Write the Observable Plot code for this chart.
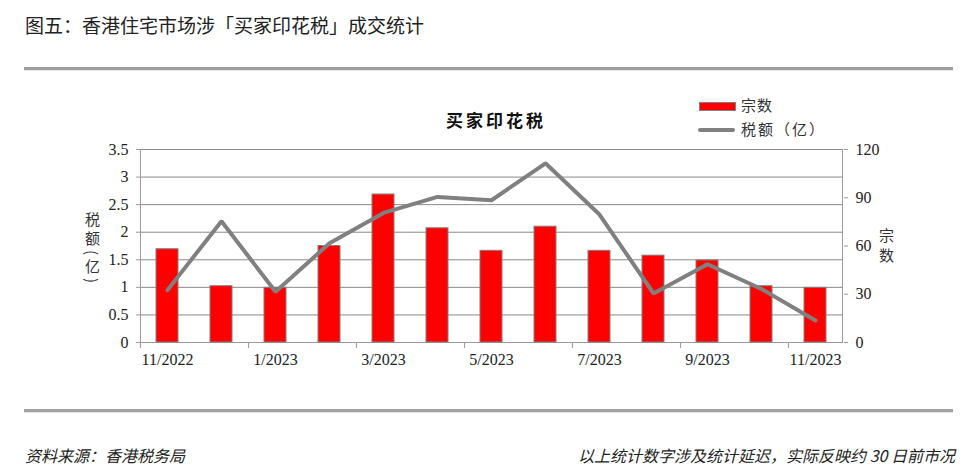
<!DOCTYPE html>
<html><head><meta charset="utf-8">
<script src="https://cdn.jsdelivr.net/npm/d3@7"></script>
<script src="https://cdn.jsdelivr.net/npm/@observablehq/plot@0.6"></script>
<style>
html,body{margin:0;padding:0;background:#fff;}
#wrap{position:relative;width:967px;height:476px;overflow:hidden;font-family:"Noto Sans CJK SC",sans-serif;color:#222;}
.abs{position:absolute;white-space:nowrap;}
#head{left:25px;top:12px;font-size:19px;line-height:26px;color:#222;}
.rule{position:absolute;left:24px;width:929px;height:3px;background:#a0a0a0;border-bottom:1px solid #e4e4e4;}
#chart{position:absolute;left:0;top:80px;}
#ctitle{left:446px;top:107px;font-size:17px;font-weight:700;letter-spacing:3px;color:#111;}
#ylab{left:84px;top:212px;writing-mode:vertical-rl;font-size:15px;line-height:16px;letter-spacing:4px;color:#333;}
#ylab2{left:878px;top:228px;writing-mode:vertical-rl;font-size:15px;line-height:16px;letter-spacing:5px;color:#333;}
.legsw{position:absolute;}
.legtx{font-size:15px;line-height:18px;color:#333;}
.foot{top:444px;font-size:16px;font-style:italic;color:#222;line-height:22px;}
</style></head>
<body>
<div id="wrap">
  <div id="head" class="abs">图五：香港住宅市场涉「买家印花税」成交统计</div>
  <div class="rule" style="top:67px"></div>
  <div id="chart"></div>
  <div id="ctitle" class="abs">买家印花税</div>
  <div id="ylab" class="abs">税额(亿)</div>
  <div id="ylab2" class="abs">宗数</div>
  <div class="legsw" style="left:699px;top:102px;width:35px;height:7px;background:#ff0000;border:1px solid #808080;"></div>
  <div class="abs legtx" style="left:741px;top:96px;letter-spacing:1px;">宗数</div>
  <div class="legsw" style="left:698px;top:128px;width:37px;height:4px;background:#808080;border-radius:2px;"></div>
  <div class="abs legtx" style="left:741px;top:120px;letter-spacing:2px;">税额（亿）</div>
  <div class="rule" style="top:409px"></div>
  <div class="abs foot" style="left:25px;">资料来源：香港税务局</div>
  <div class="abs foot" style="right:12px;">以上统计数字涉及统计延迟，实际反映约 30 日前市况</div>
</div>
<script>
// ---- data ----
const months = ["11/2022","12/2022","1/2023","2/2023","3/2023","4/2023","5/2023","6/2023","7/2023","8/2023","9/2023","10/2023","11/2023"];
const counts = [58, 35, 34, 60, 92, 71, 57, 72, 57, 54, 51, 35, 34];          // 宗数 (right axis)
const amounts = [0.95, 2.20, 0.92, 1.80, 2.35, 2.64, 2.58, 3.25, 2.32, 0.89, 1.42, 0.97, 0.40]; // 税额（亿） (left axis)
const leftTicks = [0, 0.5, 1, 1.5, 2, 2.5, 3, 3.5];
const rightTicks = [0, 30, 60, 90, 120];
const labelMonths = ["11/2022","1/2023","3/2023","5/2023","7/2023","9/2023","11/2023"];

const table = months.map((m, i) => ({month: m, count: counts[i], amount: amounts[i]}));
const k = 3.5 / 120; // right-axis units -> left-axis units

const W = 967, H = 330, ML = 140, MR = 124, MT = 69, MB = 68;
const step = (W - ML - MR) / months.length;
const serif = "'Liberation Serif', 'DejaVu Serif', serif";

const plot = Plot.plot({
  width: W, height: H,
  marginLeft: ML, marginRight: MR, marginTop: MT, marginBottom: MB,
  style: {fontFamily: serif, fontSize: "16px", color: "#222", background: "#fff", overflow: "visible"},
  x: {domain: months, paddingInner: 0.59, paddingOuter: 0.295, label: null, axis: null},
  y: {domain: [0, 3.5], label: null, axis: null},
  marks: [
    Plot.gridY(leftTicks, {stroke: "#8a8a8a", strokeOpacity: 1}),
    Plot.ruleX([months[0]], {dx: -step / 2, y1: 0, y2: 3.5, stroke: "#9a9a9a"}),
    Plot.ruleX([months[months.length - 1]], {dx: step / 2, y1: 0, y2: 3.5, stroke: "#9a9a9a"}),
    Plot.ruleY([0], {stroke: "#9a9a9a"}),
    Plot.axisY({ticks: leftTicks, tickSize: 4, tickPadding: 8, stroke: "#9a9a9a", tickFormat: d => String(d), fontSize: 16, label: null}),
    Plot.axisY({anchor: "right", ticks: rightTicks.map(v => v * k), tickSize: 4, tickPadding: 8, stroke: "#9a9a9a", tickFormat: v => String(Math.round(v / k)), fontSize: 16, label: null}),
    Plot.axisX({ticks: labelMonths, tickSize: 6, tickFormat: () => "", dx: -step / 2, stroke: "#9a9a9a", label: null}),
    Plot.axisX({ticks: labelMonths, tickSize: 0, tickPadding: 11, fontSize: 16, label: null}),
    Plot.barY(table, {x: "month", y: d => d.count * k, fill: "#ff0000", stroke: "#808080", strokeWidth: 1}),
    Plot.lineY(table, {x: "month", y: "amount", stroke: "#808080", strokeWidth: 4, strokeLinejoin: "miter"})
  ]
});
document.getElementById("chart").appendChild(plot);
</script>
</body></html>
